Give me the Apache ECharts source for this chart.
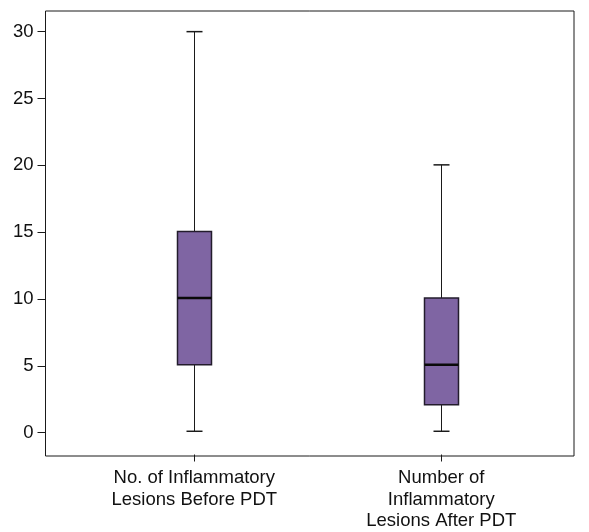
<!DOCTYPE html>
<html><head><meta charset="utf-8">
<script src="https://cdn.jsdelivr.net/npm/echarts@6/dist/echarts.min.js"></script>
<style>html,body{margin:0;padding:0;background:#fff}#c{width:589px;height:532px}</style>
</head><body><div id="c"></div>
<script>
const categories = ['No. of Inflammatory\nLesions Before PDT', 'Number of\nInflammatory\nLesions After PDT'];
const whiskerLow = [0, 0];
const q1 = [5, 2];
const median = [10, 5];
const q3 = [15, 10];
const whiskerHigh = [30, 20];
const yTicks = [0, 5, 10, 15, 20, 25, 30];

const FONT = '"Liberation Sans", Arial, sans-serif';
const rows = categories.map((c, i) => [i, whiskerLow[i], q1[i], median[i], q3[i], whiskerHigh[i]]);
const YMIN = -1.743, YMAX = 31.55;

const chart = echarts.init(document.getElementById('c'), null, {renderer: 'canvas'});
chart.setOption({
  animation: false,
  backgroundColor: '#fff',
  grid: [
    {left: 45.5, right: 15, top: 11, bottom: 76, show: true, borderColor: '#1a1a1a', borderWidth: 1, backgroundColor: 'transparent'},
    {left: 70.8, right: 24.2, top: 11, bottom: 76}
  ],
  xAxis: [
    {gridIndex: 0, type: 'value', min: 0, max: 1, axisLine: {show: false}, axisTick: {show: false}, axisLabel: {show: false}, splitLine: {show: false}},
    {gridIndex: 1, type: 'category', data: categories, boundaryGap: true, position: 'bottom',
     axisLine: {show: false, onZero: false},
     axisTick: {show: true, alignWithLabel: true, length: 7, lineStyle: {color: '#1a1a1a', width: 1}},
     axisLabel: {color: '#111', fontFamily: FONT, fontSize: 18.5, lineHeight: 21.5, margin: 13, interval: 0, align: 'center'},
     splitLine: {show: false}}
  ],
  yAxis: [
    {gridIndex: 0, type: 'value', min: YMIN, max: YMAX,
     axisLine: {show: false},
     axisTick: {show: true, length: 8, customValues: yTicks, lineStyle: {color: '#1a1a1a', width: 1}},
     axisLabel: {color: '#111', fontFamily: FONT, fontSize: 18.5, margin: 12, customValues: yTicks},
     splitLine: {show: false}},
    {gridIndex: 1, type: 'value', min: YMIN, max: YMAX, show: false, splitLine: {show: false}}
  ],
  series: [{
    type: 'custom',
    xAxisIndex: 1, yAxisIndex: 1,
    data: rows,
    encode: {x: 0, y: [1, 2, 3, 4, 5]},
    renderItem: function (params, api) {
      const x = api.value(0);
      const pLow = api.coord([x, api.value(1)]);
      const pQ1 = api.coord([x, api.value(2)]);
      const pMed = api.coord([x, api.value(3)]);
      const pQ3 = api.coord([x, api.value(4)]);
      const pHigh = api.coord([x, api.value(5)]);
      const bw = 34, cw = 16;
      const cx = Math.round(pLow[0]) + 0.5;
      const line = {stroke: '#1a1a1a', lineWidth: 1};
      return {
        type: 'group',
        children: [
          {type: 'line', shape: {x1: cx, y1: pLow[1], x2: cx, y2: pQ1[1]}, style: line},
          {type: 'line', shape: {x1: cx, y1: pQ3[1], x2: cx, y2: pHigh[1]}, style: line},
          {type: 'line', shape: {x1: cx - cw / 2, y1: pLow[1], x2: cx + cw / 2, y2: pLow[1]}, style: {stroke: '#1a1a1a', lineWidth: 1.5}},
          {type: 'line', shape: {x1: cx - cw / 2, y1: pHigh[1], x2: cx + cw / 2, y2: pHigh[1]}, style: {stroke: '#1a1a1a', lineWidth: 1.5}},
          {type: 'rect', shape: {x: cx - bw / 2, y: pQ3[1], width: bw, height: pQ1[1] - pQ3[1]},
           style: {fill: '#7F65A3', stroke: '#231c2c', lineWidth: 1.5}},
          {type: 'line', shape: {x1: cx - bw / 2, y1: pMed[1], x2: cx + bw / 2, y2: pMed[1]}, style: {stroke: '#0a0a0a', lineWidth: 2.5}}
        ]
      };
    }
  }]
});
</script></body></html>
